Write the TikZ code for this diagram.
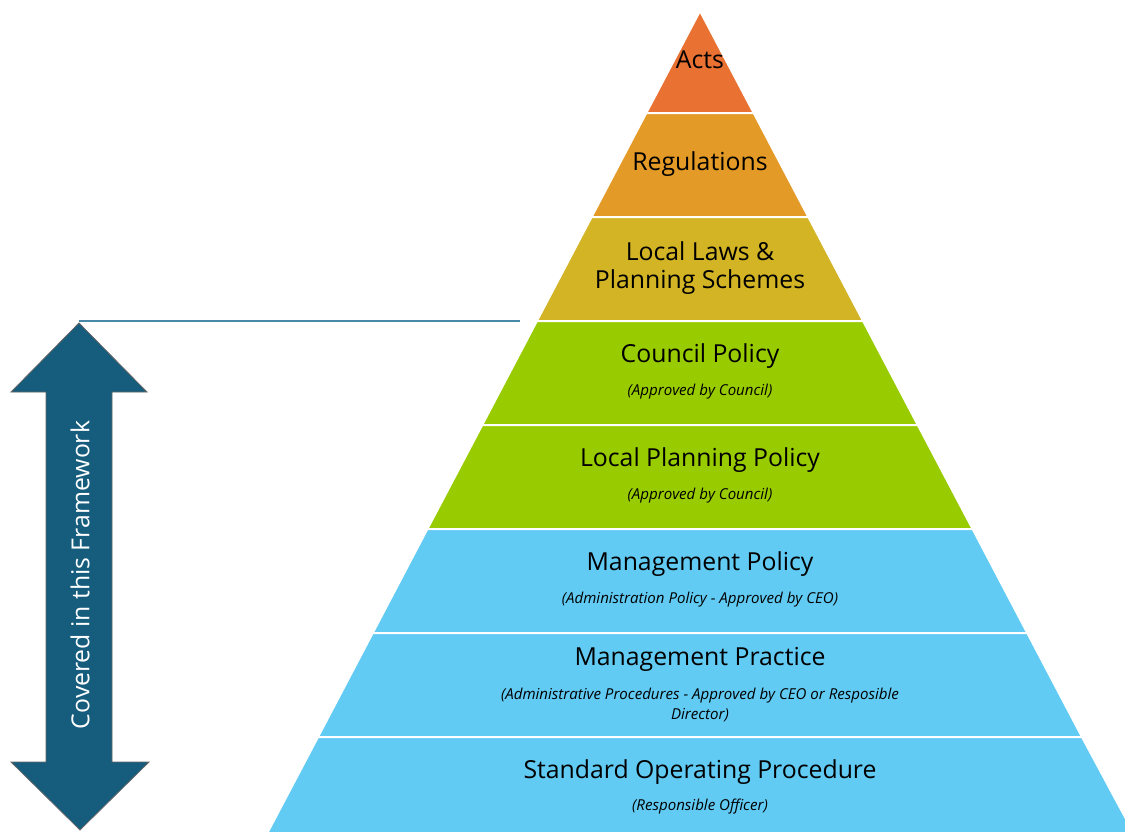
\documentclass[tikz,border=0pt]{standalone}
\usepackage{fontspec}
\setmainfont{Open Sans}
\usetikzlibrary{shapes}
\definecolor{actsorange}{HTML}{E97132}
\definecolor{regorange}{HTML}{E49A26}
\definecolor{lawgold}{HTML}{D3B425}
\definecolor{policygreen}{HTML}{99CC00}
\definecolor{mgmtblue}{HTML}{61CBF4}
\definecolor{arrowblue}{HTML}{165C7D}
\definecolor{linkblue}{HTML}{4A88A8}
\begin{document}
\begin{tikzpicture}[x=0.75pt,y=-0.75pt]
\tikzstyle{layer}=[draw=white,line width=1.5pt]
\tikzstyle{title}=[inner sep=0pt,font=\fontsize{18.6}{21}\selectfont]
\tikzstyle{note}=[inner sep=0pt,font=\fontsize{11.3}{15.5}\selectfont\itshape,align=center]
\useasboundingbox (0,0) rectangle (1125,832);
\clip (0,0) rectangle (1125,832);
% pyramid layers
\fill [actsorange,layer] (700,11) -- (753.7,113) -- (646.3,113) -- cycle;
\fill [regorange,layer] (646.3,113) -- (753.7,113) -- (808.4,217) -- (591.6,217) -- cycle;
\fill [lawgold,layer] (591.6,217) -- (808.4,217) -- (863.1,321) -- (536.9,321) -- cycle;
\fill [policygreen,layer] (536.9,321) -- (863.1,321) -- (917.8,425) -- (482.2,425) -- cycle;
\fill [policygreen,layer] (482.2,425) -- (917.8,425) -- (972.6,529) -- (427.4,529) -- cycle;
\fill [mgmtblue,layer] (427.4,529) -- (972.6,529) -- (1027.3,633) -- (372.7,633) -- cycle;
\fill [mgmtblue,layer] (372.7,633) -- (1027.3,633) -- (1082,737) -- (318,737) -- cycle;
\fill [mgmtblue,layer] (318,737) -- (1082,737) -- (1140,845) -- (261,845) -- cycle;
% labels
\node [title] (acts) at (700,60) {Acts};
\node [title] (regs) at (700,164) {Regulations};
\node [title,align=center] (laws) at (700,268) {Local Laws \&\\Planning Schemes};
\node [title] (council) at (700,356) {Council Policy};
\node [note] (councilnote) at (700,392) {(Approved by Council)};
\node [title] (planning) at (700,460) {Local Planning Policy};
\node [note] (planningnote) at (700,496) {(Approved by Council)};
\node [title] (mpolicy) at (700,564) {Management Policy};
\node [note] (mpolicynote) at (700,600) {(Administration Policy - Approved by CEO)};
\node [title] (mpractice) at (700,659) {Management Practice};
\node [note] (mpracticenote) at (700,705) {(Administrative Procedures - Approved by CEO or Resposible\\Director)};
\node [title] (sop) at (700,772) {Standard Operating Procedure};
\node [note] (sopnote) at (700,807) {(Responsible Officer)};
% framework marker
\coordinate (top) at (79,321);
\coordinate (cut) at (520,321);
\draw [linkblue,line width=1.2pt] (top) -- (cut);
\draw [fill=arrowblue,draw=black!60,line width=0.6pt] (79,323) -- (147,392) -- (112,392) -- (112,762) -- (149,762) -- (80,830) -- (11,762) -- (46,762) -- (46,392) -- (11,392) -- cycle;
\node [title,white,rotate=90] (cover) at (80,575) {Covered in this Framework};
\end{tikzpicture}
\end{document}
